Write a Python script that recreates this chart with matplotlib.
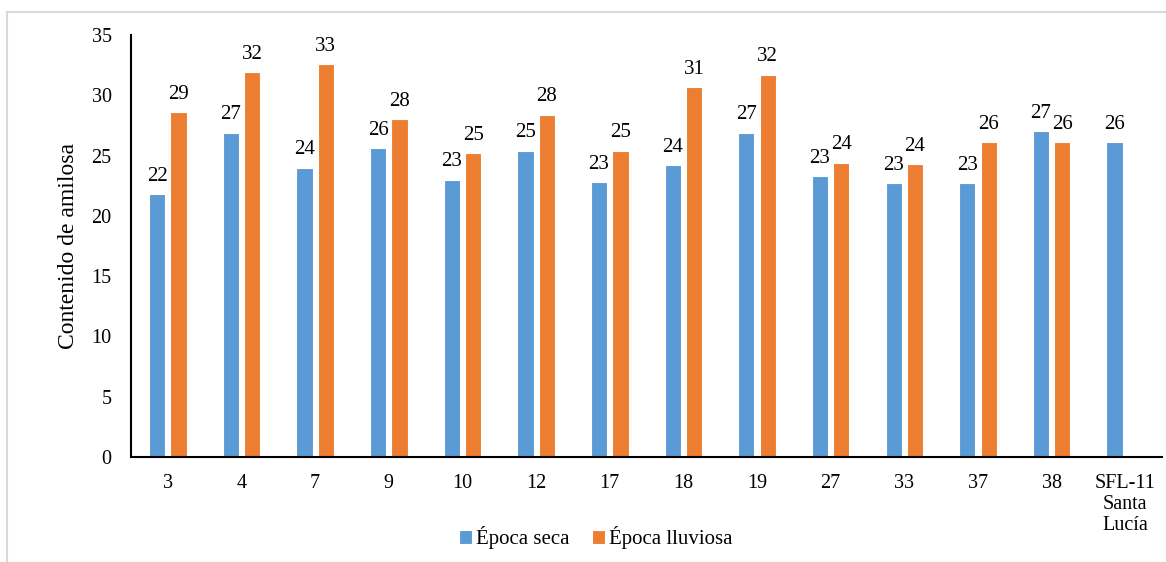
"""Contenido de amilosa por línea, época seca y lluviosa."""
import numpy as np
import matplotlib
matplotlib.use('Agg')
from matplotlib import pyplot as plt
from matplotlib.lines import Line2D

categories = ['3', '4', '7', '9', '10', '12', '17', '18', '19', '27', '33',
              '37', '38', 'SFL-11\nSanta\nLucía']
seca = [21.8, 26.9, 24.0, 25.6, 23.0, 25.4, 22.8, 24.2, 26.9, 23.3, 22.7,
        22.7, 27.0, 26.1]
lluviosa = [28.6, 31.9, 32.6, 28.0, 25.2, 28.4, 25.4, 30.7, 31.7, 24.4, 24.3,
            26.1, 26.1, None]

plt.rcParams['font.family'] = 'serif'
plt.rcParams['font.serif'] = ['Liberation Serif', 'DejaVu Serif']

fig = plt.figure(figsize=(11.66, 5.62), dpi=100)
ax = fig.add_axes([0.1124, 0.1868, 0.8842, 0.7509])

x = np.arange(len(categories))
w = 0.22
off = 0.145
blue, orange = '#5B9BD5', '#ED7D31'

# Bars, skip missing values
ax.bar(x - off, seca, w, color=blue, edgecolor='white', linewidth=0.8,
       label='Época seca')
xl = [xi for xi, v in zip(x, lluviosa) if v is not None]
yl = [v for v in lluviosa if v is not None]
ax.bar(np.array(xl) + off, yl, w, color=orange, edgecolor='white',
       linewidth=0.8, label='Época lluviosa')

# Data labels
for xi, v in zip(x, seca):
    ax.annotate(f'{v:.0f}', (xi - off, v), xytext=(0, 6),
                textcoords='offset points', ha='center', va='bottom',
                fontsize=15)
for xi, v in zip(xl, yl):
    ax.annotate(f'{v:.0f}', (xi + off, v), xytext=(0, 6),
                textcoords='offset points', ha='center', va='bottom',
                fontsize=15)

ax.set_xlim(-0.5, len(categories) - 0.5)
ax.set_ylim(0, 35)
ax.set_yticks(range(0, 36, 5))
ax.set_xticks(x)
ax.set_xticklabels(categories, linespacing=1.15)
ax.tick_params(axis='both', length=0, labelsize=14.5)
ax.tick_params(axis='y', pad=14)
ax.tick_params(axis='x', pad=12)
for s in ['top', 'right']:
    ax.spines[s].set_visible(False)
for s in ['left', 'bottom']:
    ax.spines[s].set_linewidth(1.5)
ax.set_ylabel('Contenido de amilosa', fontsize=17)
ax.yaxis.set_label_coords(-52 / 1031, 0.5)

fig.legend(loc='center', bbox_to_anchor=(0.511, 0.043), ncol=2,
           frameon=False, fontsize=15, handlelength=0.6, handleheight=0.6,
           handletextpad=0.2, columnspacing=1.1)

# Light chart border (top and left visible)
fig.add_artist(Line2D([7 / 1166, 1.0], [1 - 12 / 562, 1 - 12 / 562],
                      color='#D9D9D9', lw=1.5))
fig.add_artist(Line2D([7 / 1166, 7 / 1166], [0.0, 1 - 12 / 562],
                      color='#D9D9D9', lw=1.5))

fig.savefig('out.png', dpi=100)
